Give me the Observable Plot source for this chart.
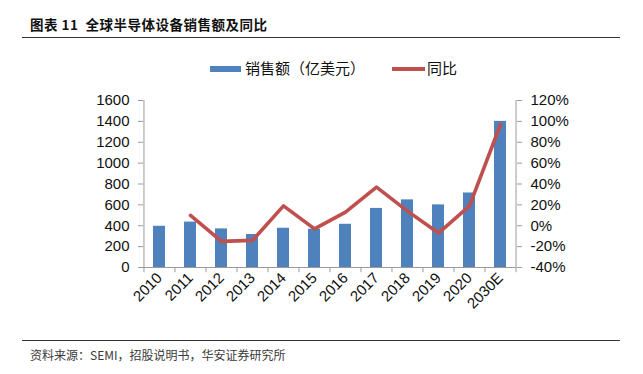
<!DOCTYPE html>
<html><head><meta charset="utf-8">
<script src="https://cdn.jsdelivr.net/npm/d3@7"></script>
<script src="https://cdn.jsdelivr.net/npm/@observablehq/plot@0.6"></script>
<style>
body{margin:0;background:#fff;}
#wrap{position:relative;width:643px;height:374px;overflow:hidden;font-family:"Liberation Sans",Arial,sans-serif;}
#title{position:absolute;left:30px;top:14px;font-family:"Noto Sans CJK SC";font-weight:bold;font-size:13.5px;color:#111;letter-spacing:0.5px;}
.hr{position:absolute;left:22px;width:598px;height:1px;background:#333;}
#source{position:absolute;left:30px;top:346px;font-family:"Noto Sans CJK SC";font-size:12px;color:#3a3a3a;}
#legend{position:absolute;top:60px;left:210px;font-family:"Noto Sans CJK SC";font-size:15px;color:#111;}
#legend span{position:absolute;white-space:nowrap;}
#chart{position:absolute;left:0;top:80px;}
</style></head>
<body><div id="wrap">
<div id="title">图表 11&nbsp; 全球半导体设备销售额及同比</div>
<div class="hr" style="top:37px"></div>
<div id="legend">
  <span style="left:0;top:6px;width:31px;height:6px;background:#4F81BD"></span>
  <span style="left:35px;top:-2px;line-height:20px">销售额（亿美元）</span>
  <span style="left:182px;top:7px;width:33px;height:4px;background:#C0504D"></span>
  <span style="left:217px;top:-2px;line-height:20px">同比</span>
</div>
<div id="chart"></div>
<div class="hr" style="top:340px"></div>
<div id="source">资料来源：SEMI，招股说明书，华安证券研究所</div>
</div>
<script>
const categories = ["2010","2011","2012","2013","2014","2015","2016","2017","2018","2019","2020","2030E"];
const sales = [395, 435, 370, 316, 376, 367, 414, 566, 648, 600, 714, 1400];
const yoyYears = ["2011","2012","2013","2014","2015","2016","2017","2018","2019","2020","2030E"];
const yoy = [10, -15, -14, 19, -3, 13, 37, 14, -7, 19, 97];
const leftTicks = [0,200,400,600,800,1000,1200,1400,1600];
const rightTicks = [-40,-20,0,20,40,60,80,100,120];

const pctToY = p => (p + 40) * 10;
const barData = categories.map((c,i)=>({year:c, value:sales[i]}));
const lineData = yoyYears.map((c,i)=>({year:c, v:pctToY(yoy[i])}));

const W = 643, H = 270, mL = 143, mR = 127, mT = 20, mB = 83;
const step = (W - mL - mR) / categories.length;
const axisColor = "#9a9a9a";

const chart = Plot.plot({
  width: W, height: H,
  marginLeft: mL, marginRight: mR, marginTop: mT, marginBottom: mB,
  style: {fontFamily: '"Liberation Sans", Arial, sans-serif', fontSize: "15px", color: "#111", background: "#fff"},
  x: {domain: categories, paddingInner: 0.6, paddingOuter: 0.3, label: null},
  y: {domain: [0, 1600], label: null},
  marks: [
    Plot.barY(barData, {x: "year", y: "value", fill: "#4F81BD"}),
    Plot.line(lineData, {x: "year", y: "v", stroke: "#C0504D", strokeWidth: 3.6, strokeLinejoin: "round"}),
    Plot.axisY(leftTicks, {anchor: "left", tickSize: 5, tickPadding: 9, stroke: axisColor, fontSize: 15, fill: "#111", tickFormat: d => String(d), label: null}),
    Plot.axisY(rightTicks.map(pctToY), {anchor: "right", tickSize: 5, tickPadding: 9, stroke: axisColor, fontSize: 15, fill: "#111", tickFormat: v => Math.round(v/10 - 40) + "%", label: null}),
    Plot.ruleX([0], {x: () => categories[0], dx: -step/2, y1: 0, y2: 1600, stroke: axisColor}),
    Plot.ruleX([0], {x: () => categories[categories.length-1], dx: step/2, y1: 0, y2: 1600, stroke: axisColor}),
    Plot.ruleY([0], {stroke: axisColor}),
    Plot.ruleX(categories, {x: d => d, dx: -step/2, y1: 0, y2: -50, stroke: axisColor}),
    Plot.ruleX([categories[categories.length-1]], {x: d => d, dx: step/2, y1: 0, y2: -50, stroke: axisColor}),
    Plot.axisX({tickSize: 0, tickRotate: -45, tickPadding: 8, fontSize: 15, fill: "#111", label: null})
  ]
});
document.getElementById("chart").appendChild(chart);
</script>
</body></html>
